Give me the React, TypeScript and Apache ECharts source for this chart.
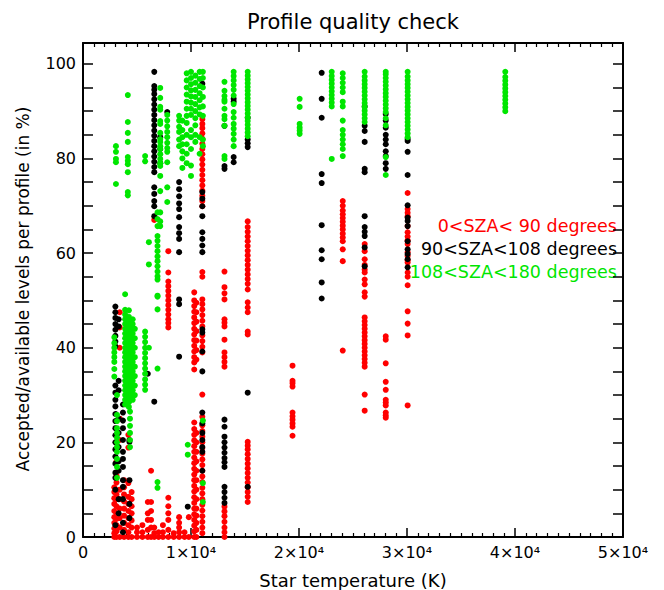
import React, { useEffect, useRef } from "react";
import * as echarts from "echarts";

const xTicks = [0, 10000, 20000, 30000, 40000, 50000];
const yTicks = [0, 20, 40, 60, 80, 100];
const legendLabels = ["0<SZA< 90 degrees", "90<SZA<108 degrees", "108<SZA<180 degrees"];
const seriesColors = ["#ff0000", "#000000", "#00e600"];

const redCols: [number, number[]][] = [
  [2900, [0, 0.8, 1.8, 3, 4.2, 5.5, 7, 8.2, 9.5, 10.5]],
  [3100, [0, 1.2, 2.5, 3.8, 5, 6.5, 8, 9, 11.5, 13, 16]],
  [3400, [0, 2, 4, 6, 8, 10, 20.5, 25, 40, 44.3, 47.5]],
  [3800, [0, 1.5, 3, 4.5, 6, 7.5, 9, 10.5, 12]],
  [4200, [0, 1, 2.5, 4, 5.5, 7, 8.5, 11.4, 18.9, 21.6, 34, 38]],
  [4500, [0, 2, 3.5, 5, 6.5, 8, 9.5]],
  [5000, [0, 1, 2]],
  [5500, [0, 1, 2.5]],
  [6000, [0, 1.5, 3.6, 5, 7.4]],
  [6300, [0, 2, 3.6, 5.5, 7.4, 14]],
  [6600, [0, 0.8, 2, 67]],
  [7000, [0, 1]],
  [7400, [0, 1, 2.5]],
  [7900, [0, 1.5, 3.6, 5, 6.5, 8.3, 44.3, 45.2, 46, 47, 48, 49, 50, 51, 52, 53, 54, 55.9, 60.4]],
  [8400, [0, 0.8]],
  [8900, [0, 1, 2, 3, 4.2]],
  [9400, [0, 1]],
  [9800, [0, 4.2]],
  [10300, [0, 1.2, 2.4, 3.6, 4.8, 6, 7.2, 8.4, 9.6, 10.8, 12, 13.2, 14.4, 15.6, 16.8, 18, 19.2, 20.4, 21.6, 22.8, 24.2, 35.4, 36.9, 38, 39.2, 40.4, 41.6, 42.8, 44, 45.2, 46.4, 47.6, 48.8, 50, 51.7]],
  [10500, [0, 1.5, 3, 4.5, 6, 8, 10, 12, 14, 16, 18, 20, 22, 37.5, 39.5, 41.5, 43.5, 45.5, 47.5, 49.5]],
  [11050, [0.8, 2, 3.2, 4.4, 5.6, 6.8, 8, 9.2, 10.4, 11.6, 12.8, 14, 15.2, 16.4, 17.6, 18.8, 20, 21.2, 22.4, 23.6, 25.4, 30.1, 39, 40.2, 41.4, 42.6, 44.5, 45.7, 46.9, 48.1, 49.2, 50.2, 55, 56, 69.9, 71, 72.1, 73.2, 74.3, 75.4, 76.5, 77.6, 78.7, 79.8, 80.9, 82, 83.1, 84.2, 85.3, 86.4, 87.3, 88.3]],
  [13100, [0, 1, 2, 3.2, 4.4, 5.4, 6.4, 36, 37, 38, 39, 41.7, 44.5, 45.3, 46, 50.2, 51.5, 52.8, 56.1]],
  [15250, [7.4, 8.5, 9.5, 10.5, 11.5, 12.5, 13.5, 14.5, 15.5, 16.5, 17.5, 18.5, 19.3, 20.1, 42.8, 43.4, 47.5, 48.5, 49.6, 52.3, 53.5, 54.5, 55.5, 56.5, 57.5, 58.5, 59.5, 60.5, 61.5, 62.5, 63.5, 64.5, 65.5, 66.7]],
  [19400, [21.4, 23.3, 24, 24.8, 25.5, 26.3, 31.8, 32.5, 33, 36.2]],
  [24050, [39.4, 58.3, 60.8, 62.5, 63.3, 64.1, 65, 65.8, 66.6, 67.4, 68.2, 69, 70, 71]],
  [26080, [26.7, 30.1, 36, 36.8, 37.6, 38.4, 39.2, 40, 40.8, 41.6, 42.4, 43.2, 44, 44.8, 45.6, 46.4, 50.8, 51.7, 53.4, 54.4, 55.9, 56.5, 57.5, 58.7, 60.4, 61.9]],
  [28030, [25.2, 25.7, 26.3, 27.8, 28.4, 29, 31.1, 32.8, 36.7, 41.7, 42.4]],
  [30060, [27.8, 42.6, 45.1, 47.7, 53.2, 55, 55.9, 58, 58.5, 59.4, 60.2, 61.9, 62.7, 63.5, 64.4, 65.7, 67.8, 68.5, 69.3, 72.7]],
];

const blackCols: [number, number[]][] = [
  [3000, [2.5, 10, 12.5, 13.6, 15.5, 17, 18.5, 20, 21.5, 23, 24.5, 26, 27.6, 29, 30.5, 32, 40.3, 41.3, 42.5, 43.8, 45, 46.3, 47.5, 48.7]],
  [3300, [5, 8, 14, 16, 19, 22, 25, 31, 33, 44.5, 46]],
  [3700, [1, 3, 8, 10.6, 12, 14.8, 16.5, 18, 20.5, 23, 24.6, 26.3, 28]],
  [4300, [4, 7, 12, 20.1, 20.5, 39.6]],
  [6000, [34.5]],
  [6600, [28.6, 67.8, 69.9, 71, 72.5, 73.9, 77.1, 78.2, 79.3, 80.4, 81.5, 82.6, 83.7, 84.8, 85.9, 87, 88.1, 89.2, 90.3, 91.4, 92.5, 93.6, 94.5, 95.3, 98.3]],
  [7150, [79, 82, 84.5]],
  [7800, [89.8]],
  [8900, [38.1, 49.2, 50.2, 60.2, 63, 64.2, 65.5, 67.6, 69.3, 70.5, 72, 73.5, 75]],
  [9700, [6.4]],
  [11050, [14, 18, 19, 20.5, 22, 24, 26.3, 35, 39.2, 43.2, 43.9, 60.2, 61.6, 63, 64.4, 67.8, 69.9, 71.5, 72.9, 95.8]],
  [13100, [7.2, 8.3, 9.5, 10.6, 14.8, 15.8, 16.7, 17.8, 18.9, 20, 21.2, 23.3, 24.8, 77.8, 78.4, 86.9]],
  [13950, [79.2, 80.3, 92, 92.6]],
  [15250, [10.6, 30.5, 82.4, 83.2, 84, 88.6]],
  [22100, [50.4, 53.8, 58.7, 60.6, 65.9, 74.8, 76.7, 88.6, 92.6, 98.1]],
  [26080, [57.2, 61.2, 63.6, 64.5, 65.5, 67.8, 77.1, 77.8, 83.5, 85.8, 86.9, 91]],
  [28030, [77.8, 79, 80.5, 81.5, 83, 84, 85, 86.5, 88, 89.4]],
  [30060, [57, 58.7, 59.8, 60.8, 62.5, 65.7, 66.8, 67.5, 70.1, 76.5, 81.4, 83.7, 84.1]],
];

const greenCols: [number, number[]][] = [
  [2900, [33.9, 35.5, 37, 38, 39, 40, 41, 42.2]],
  [3050, [74.6, 79.2, 79.9, 81.4, 82.6]],
  [3150, [12.5, 14.8, 16.5, 18, 19, 20, 21, 22, 23, 24.5, 25.8, 30]],
  [3900, [28, 29, 30, 31, 32, 33, 34, 35, 36, 37, 38, 39, 40, 41, 42, 43, 44, 45, 46, 47, 48, 51.3]],
  [4150, [72.2, 72.9, 77.1, 78.8, 79.5, 80.3, 83.5, 85.4, 87.7, 93.4]],
  [4250, [27.5, 28.5, 29.5, 30.5, 31.5, 32.5, 33.5, 34.5, 35.5, 36.5, 37.5, 38.5, 39.5, 40.5, 41.5, 42.5, 43.5, 44.5, 45.5, 46.5, 47.9]],
  [4350, [19, 20.5, 22, 23.5, 25, 26.5]],
  [4600, [29, 30, 31, 32, 33, 34, 35, 36, 37, 38, 39, 40, 41, 42, 43, 44, 45, 46]],
  [4800, [30, 32, 34, 36, 38, 40, 42, 44]],
  [5750, [31.1, 32.2, 33.3, 34.5, 35.6, 36.7, 37.8, 38.9, 40, 41.2, 42.3, 43.4, 79.4, 80.5]],
  [6100, [40, 57.6, 62.3]],
  [6900, [10.4, 11.6, 35.6, 48.1, 50.8, 51, 54.4, 55.1, 56.1, 57.2, 58.3, 59.3, 60.4, 61.5, 62.6, 63.6, 65.7, 67.2, 68.6]],
  [7150, [65.7, 66.7, 68.6, 73.1, 76.3, 78.4, 79, 79.9, 80.9, 82, 82.6, 83.5, 84.1, 85.4, 87.3, 87.9, 90.3, 90.9, 92.8, 94.9]],
  [7800, [70.8, 73.9, 79.2, 81.4, 82.2, 83.3, 84.5, 85.6, 86.8, 88, 89.2]],
  [8900, [82.6, 84, 85.6, 86.7, 88, 89]],
  [9200, [78, 80, 81.5, 83, 84.5, 86, 88]],
  [9600, [79, 81, 83, 85, 87.5, 89, 90.5, 92, 93.5, 95, 96.5, 98]],
  [9700, [17.4, 19.5]],
  [10000, [76.3, 78.5, 82, 84.5, 86, 89.2, 90.5, 91.8, 93.1, 94.4, 95.7, 97, 98.3]],
  [10400, [83.5, 85, 87, 88.5, 90, 91.5, 93, 94.5, 96, 97.5]],
  [10800, [81, 84.5, 89.3, 90.8, 92.3, 93.8, 95.3, 96.8, 98.3]],
  [11100, [7.4, 11.4, 24.6, 82.6, 84, 89, 91, 93, 95, 97, 98.3]],
  [13100, [79.9, 80.5, 86.9, 88.3, 89, 90.5, 92, 92.4, 93.2, 94.3, 96.2]],
  [13950, [82.6, 84, 85.2, 86.3, 87.3, 88.6, 89.8, 91.5, 93.3, 94.5, 95.5, 96.5, 97.4, 98.3]],
  [15250, [84.7, 85.5, 86.3, 87.1, 87.9, 88.7, 89.5, 90.3, 91.1, 91.9, 92.7, 93.5, 94.3, 95.1, 95.9, 96.7, 97.5, 98.3]],
  [20060, [85.2, 85.9, 86.5, 87.3, 90.9, 92.6]],
  [23030, [79.9, 91, 91.8, 92.6, 93.4, 94.2, 95, 95.8, 96.6, 97.4, 98.3]],
  [24050, [80.5, 82, 83, 84, 85, 86, 88, 91, 92, 94, 95, 96, 97, 98]],
  [26080, [87.7, 88.5, 89.3, 90.1, 90.9, 91.7, 92.5, 93.3, 94.1, 94.9, 95.7, 96.5, 97.3, 98.3]],
  [28030, [76.5, 80.3, 87, 88.5, 89.8, 90.6, 91.4, 92.2, 93, 93.8, 94.6, 95.4, 96.2, 97, 97.8, 98.3]],
  [30060, [84.5, 85.3, 86.1, 86.9, 87.7, 88.5, 89.3, 90.1, 90.9, 91.7, 92.5, 93.3, 94.1, 94.9, 95.7, 96.5, 97.3, 98.3]],
  [39100, [90, 90.8, 91.6, 92.4, 93.2, 94, 94.8, 95.6, 96.4, 97.2, 98.3]],
];

const flatten = (cols: [number, number[]][]) =>
  cols.flatMap(([t, ys]) => ys.map((y) => [t, y]));

const FONT = "DejaVu Sans";

export default function App() {
  const ref = useRef<HTMLDivElement>(null);
  useEffect(() => {
    document.body.style.margin = "0";
    const chart = echarts.init(ref.current!, null, { renderer: "svg" });
    const xFmt = (v: number) => {
      if (!xTicks.includes(v)) return "";
      return v === 0 ? "0" : `${v / 10000}×10⁴`;
    };
    const yFmt = (v: number) => (yTicks.includes(v) ? String(v) : "");
    const axisCommon = {
      type: "value" as const,
      splitLine: { show: false },
      axisLine: { show: true, onZero: false, lineStyle: { color: "#000", width: 2 } },
    };
    chart.setOption({
      animation: false,
      backgroundColor: "#fff",
      grid: { left: 83, right: 41, top: 43, bottom: 53 },
      xAxis: [
        {
          ...axisCommon,
          min: 0,
          max: 50000,
          interval: 10000,
          position: "bottom",
          axisTick: { inside: true, length: 9, lineStyle: { color: "#000", width: 1.5 } },
          minorTick: { show: true, splitNumber: 10, length: 4, lineStyle: { color: "#000", width: 1.2 } },
          axisLabel: { formatter: xFmt, color: "#000", fontSize: 16, fontFamily: FONT, margin: 7 },
        },
        {
          ...axisCommon,
          min: 0,
          max: 50000,
          interval: 10000,
          position: "top",
          axisTick: { inside: true, length: 9, lineStyle: { color: "#000", width: 1.5 } },
          minorTick: { show: true, splitNumber: 10, length: 4, lineStyle: { color: "#000", width: 1.2 } },
          axisLabel: { show: false },
        },
      ],
      yAxis: [
        {
          ...axisCommon,
          min: 0,
          max: 104.4,
          interval: 5,
          position: "left",
          axisTick: { inside: true, length: 10, lineStyle: { color: "#000", width: 1.5 } },
          axisLabel: { formatter: yFmt, color: "#000", fontSize: 16, fontFamily: FONT, margin: 7 },
        },
        {
          ...axisCommon,
          min: 0,
          max: 104.4,
          interval: 5,
          position: "right",
          axisTick: { inside: true, length: 10, lineStyle: { color: "#000", width: 1.5 } },
          axisLabel: { show: false },
        },
      ],
      series: [redCols, blackCols, greenCols].map((cols, i) => ({
        type: "scatter",
        name: legendLabels[i],
        xAxisIndex: 0,
        yAxisIndex: 0,
        symbol: "circle",
        symbolSize: 6,
        itemStyle: { color: seriesColors[i], opacity: 1 },
        data: flatten(cols),
      })),
      graphic: [
        {
          type: "text",
          x: 353,
          y: 22,
          style: { text: "Profile quality check", fill: "#000", font: `21px "${FONT}"`, textAlign: "center", textVerticalAlign: "middle" },
        },
        {
          type: "text",
          x: 353,
          y: 580,
          style: { text: "Star temperature (K)", fill: "#000", font: `18px "${FONT}"`, textAlign: "center", textVerticalAlign: "middle" },
        },
        {
          type: "text",
          x: 23,
          y: 289,
          rotation: Math.PI / 2,
          style: { text: "Accepted/available levels per profile (in %)", fill: "#000", font: `17px "${FONT}"`, textAlign: "center", textVerticalAlign: "middle" },
        },
        ...legendLabels.map((t, i) => ({
          type: "text",
          x: 617,
          y: 226 + i * 23,
          style: { text: t, fill: seriesColors[i], font: `17.5px "${FONT}"`, textAlign: "right", textVerticalAlign: "middle" },
        })),
      ],
    });
    return () => chart.dispose();
  }, []);
  return <div ref={ref} style={{ width: 664, height: 590 }} />;
}
